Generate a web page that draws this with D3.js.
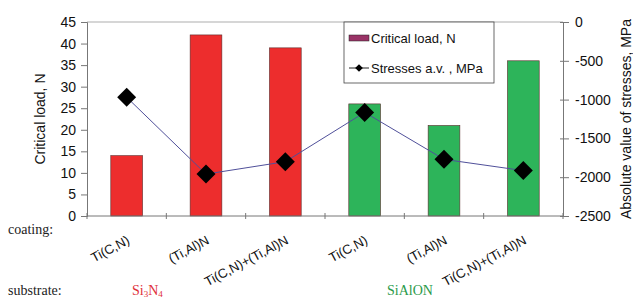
<!DOCTYPE html>
<html>
<head>
<meta charset="utf-8">
<script src="https://cdn.jsdelivr.net/npm/d3@7"></script>
<style>
  body { margin: 0; background: #fff; }
</style>
</head>
<body>
<div id="chart"></div>
<script>
// datos
const coatings = ["Ti(C,N)", "(Ti,Al)N", "Ti(C,N)+(Ti,Al)N", "Ti(C,N)", "(Ti,Al)N", "Ti(C,N)+(Ti,Al)N"]
const substrates = ["Si3N4", "Si3N4", "Si3N4", "SiAlON", "SiAlON", "SiAlON"]
const criticalLoad = [14, 42, 39, 26, 21, 36]
const stresses = [-970, -1960, -1800, -1165, -1770, -1915]
const leftTicks = [0, 5, 10, 15, 20, 25, 30, 35, 40, 45]
const rightTicks = [0, -500, -1000, -1500, -2000, -2500]

const W = 633, H = 299
const sans = "'Liberation Sans', Arial, sans-serif"
const serif = "'Liberation Serif', 'Times New Roman', serif"
const margin = {top: 22, right: 70, bottom: 83, left: 87}
const width = 563 - margin.left
const height = 216 - margin.top

const colors = {Si3N4: "#ed2d2d", SiAlON: "#2db45a"}

const svg = d3.select("#chart").append("svg")
  .attr("width", W).attr("height", H)
  .attr("font-family", sans)

const g = svg.append("g")
  .attr("transform", `translate(${margin.left},${margin.top})`)

const idx = d3.range(coatings.length)
const xc = d3.scaleBand().domain(idx).range([0, width])
const y = d3.scaleLinear().domain([0, 45]).range([height, 0])
const y2 = d3.scaleLinear().domain([-2500, 0]).range([height, 0])

// linea superior
g.append("line")
  .attr("x1", 0).attr("x2", width).attr("y1", 0).attr("y2", 0)
  .attr("stroke", "#c8c8c8").attr("stroke-width", 1.5)

// barras
g.selectAll("rect.bar")
  .data(idx)
  .join("rect")
  .attr("class", "bar")
  .attr("x", i => xc(i) + xc.bandwidth() * 0.3)
  .attr("width", xc.bandwidth() * 0.4)
  .attr("y", i => y(criticalLoad[i]))
  .attr("height", i => height - y(criticalLoad[i]))
  .attr("fill", i => colors[substrates[i]])
  .attr("stroke", "#5a2a2a").attr("stroke-width", 0.6)

// eje izquierdo
const axL = g.append("g")
  .call(d3.axisLeft(y).tickValues(leftTicks).tickSize(6).tickPadding(5))
axL.select(".domain").attr("stroke", "#777")
axL.selectAll(".tick line").attr("stroke", "#777")
axL.selectAll("text").attr("font-size", 14).attr("font-family", sans).attr("fill", "#111")

// eje derecho
const axR = g.append("g")
  .attr("transform", `translate(${width},0)`)
  .call(d3.axisRight(y2).tickValues(rightTicks).tickFormat(d => String(d)).tickSize(6).tickPadding(6))
axR.select(".domain").attr("stroke", "#777")
axR.selectAll(".tick line").attr("stroke", "#777").attr("x1", -3)
axR.selectAll("text").attr("font-size", 14).attr("font-family", sans).attr("fill", "#111")

// eje inferior
const bottom = g.append("g").attr("transform", `translate(0,${height})`)
bottom.append("line").attr("x1", 0).attr("x2", width).attr("stroke", "#777")
bottom.selectAll("line.tk")
  .data(d3.range(coatings.length + 1))
  .join("line")
  .attr("class", "tk")
  .attr("x1", i => i * xc.step()).attr("x2", i => i * xc.step())
  .attr("y1", -3).attr("y2", 3)
  .attr("stroke", "#777")

bottom.selectAll("text.cat")
  .data(idx)
  .join("text")
  .attr("class", "cat")
  .attr("transform", i => `translate(${xc(i) + xc.bandwidth() / 2 + 4},${27}) rotate(-28)`)
  .attr("text-anchor", "end")
  .attr("font-size", 13)
  .attr("fill", "#111")
  .text(i => coatings[i])

// linea de tensiones
const line = d3.line()
  .x(i => xc(i) + xc.bandwidth() / 2)
  .y(i => y2(stresses[i]))
g.append("path")
  .datum(idx)
  .attr("fill", "none")
  .attr("stroke", "#50509a")
  .attr("stroke-width", 1)
  .attr("d", line)

const diamond = d3.symbol().type(d3.symbolSquare).size(180)
g.selectAll("path.pt")
  .data(idx)
  .join("path")
  .attr("class", "pt")
  .attr("transform", i => `translate(${xc(i) + xc.bandwidth() / 2},${y2(stresses[i])}) rotate(45)`)
  .attr("d", diamond)
  .attr("fill", "#000")

// titulos de ejes
svg.append("text")
  .attr("transform", `translate(45,${margin.top + height / 2}) rotate(-90)`)
  .attr("text-anchor", "middle").attr("font-size", 14).attr("fill", "#111")
  .text("Critical load, N")
svg.append("text")
  .attr("transform", `translate(631,${margin.top + height / 2}) rotate(-90)`)
  .attr("text-anchor", "middle").attr("font-size", 14).attr("fill", "#111")
  .text("Absolute value of stresses, MPa")

// leyenda
const lg = svg.append("g").attr("transform", "translate(344,22)")
lg.append("rect").attr("width", 150).attr("height", 61)
  .attr("fill", "#fff").attr("stroke", "#444").attr("stroke-width", 0.8)
lg.append("rect").attr("x", 5).attr("y", 13).attr("width", 20).attr("height", 6)
  .attr("fill", "#993366").attr("stroke", "#222").attr("stroke-width", 0.5)
lg.append("text").attr("x", 27).attr("y", 21).attr("font-size", 13).attr("fill", "#111")
  .text("Critical load, N")
lg.append("line").attr("x1", 5).attr("x2", 25).attr("y1", 46).attr("y2", 46)
  .attr("stroke", "#222").attr("stroke-width", 1)
lg.append("path").attr("transform", "translate(15,46) rotate(45)")
  .attr("d", d3.symbol().type(d3.symbolSquare).size(30)).attr("fill", "#000")
lg.append("text").attr("x", 27).attr("y", 51).attr("font-size", 13).attr("fill", "#111")
  .text("Stresses a.v. , MPa")

// textos inferiores
svg.append("text").attr("x", 8).attr("y", 234)
  .attr("font-family", serif).attr("font-size", 14).attr("fill", "#222").text("coating:")
svg.append("text").attr("x", 8).attr("y", 295)
  .attr("font-family", serif).attr("font-size", 14).attr("fill", "#222").text("substrate:")

const s1 = svg.append("text").attr("x", 132).attr("y", 295)
  .attr("font-family", serif).attr("font-size", 14).attr("fill", "#e0303a")
s1.append("tspan").text("Si")
s1.append("tspan").attr("font-size", 9).attr("dy", 2).text("3")
s1.append("tspan").attr("dy", -2).text("N")
s1.append("tspan").attr("font-size", 9).attr("dy", 2).text("4")

svg.append("text").attr("x", 387).attr("y", 295)
  .attr("font-family", serif).attr("font-size", 14).attr("fill", "#2a9a4a").text("SiAlON")
</script>
</body>
</html>
